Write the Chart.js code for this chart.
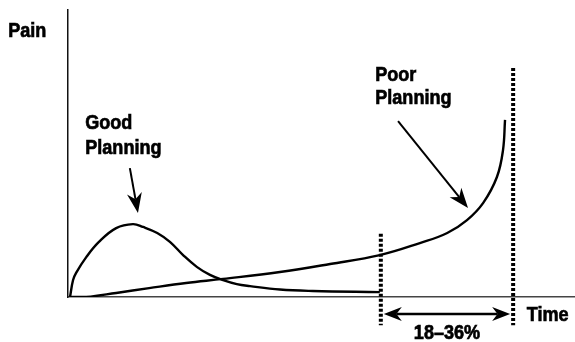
<!DOCTYPE html>
<html lang="en">
<head>
<meta charset="UTF-8">
<title>Pain over time</title>
<script src="https://cdn.jsdelivr.net/npm/chart.js"></script>
<style>
  html, body { margin: 0; padding: 0; background: #fff; }
  #wrap { width: 575px; height: 342px; }
</style>
</head>
<body>
<div id="wrap"><canvas id="grafico"></canvas></div>
<script>
// good planning: pain early, then flat
const goodTime = [0.4, 1.0, 1.6, 3.6, 6.1, 9.5, 12.8, 14.8, 17.6, 20.1, 22.7, 25.4, 28.0, 30.6, 33.3, 35.9, 41.8, 48.3, 61.5]
const goodPain = [0, 5.9, 8.4, 13.9, 19.2, 24.0, 25.4, 24.4, 22.3, 19.2, 14.6, 10.5, 7.7, 5.9, 4.5, 3.8, 2.6, 2.1, 1.7]

// poor planning: slow growth then blows up at the end
const poorTime = [0.4, 3.6, 9.5, 16.0, 23.3, 30.6, 41.8, 51.7, 61.5, 69.4, 74.8, 78.7, 81.9, 84.6, 85.8, 86.2]
const poorPain = [0, 0, 1.4, 3.1, 4.9, 6.3, 8.7, 11.5, 14.6, 18.8, 22.3, 26.8, 32.8, 41.8, 51.2, 61.7]

// dotted markers (time) and the overrun label
const markerTimes = [61.7, 87.8]
const spanLabel = '18–36%'

const toPoints = (xs, ys) => xs.map((x, i) => ({x: x, y: ys[i]}))

// condensed bold look: Liberation Sans bold squeezed sideways
const FONT = 'bold 21px "Liberation Sans", Arial, sans-serif'
const SQUEEZE = 0.86

function label(ctx, txt, x, y, align) {
  ctx.save()
  ctx.translate(x, y)
  ctx.scale(SQUEEZE, 1)
  ctx.textAlign = align || 'left'
  ctx.lineWidth = 0.7
  ctx.fillText(txt, 0, 0)
  ctx.strokeText(txt, 0, 0)
  ctx.restore()
}

function arrowHead(ctx, x1, y1, x2, y2, len, wid) {
  const a = Math.atan2(y2 - y1, x2 - x1)
  const c = Math.cos(a), s = Math.sin(a)
  const bx = x2 - c * len, by = y2 - s * len
  const nx = x2 - c * len * 0.7, ny = y2 - s * len * 0.7
  ctx.beginPath()
  ctx.moveTo(x2, y2)
  ctx.lineTo(bx - s * wid / 2, by + c * wid / 2)
  ctx.lineTo(nx, ny)
  ctx.lineTo(bx + s * wid / 2, by - c * wid / 2)
  ctx.closePath()
  ctx.fill()
  return [nx, ny]
}

function arrow(ctx, x1, y1, x2, y2, len, wid) {
  const n = arrowHead(ctx, x1, y1, x2, y2, len, wid)
  ctx.beginPath()
  ctx.moveTo(x1, y1)
  ctx.lineTo(n[0], n[1])
  ctx.stroke()
}

const annotations = {
  id: 'annotations',
  afterDraw(chart) {
    const ctx = chart.ctx
    const xs = chart.scales.x, ys = chart.scales.y
    const X = v => xs.getPixelForValue(v)
    const Y = v => ys.getPixelForValue(v)
    ctx.save()
    ctx.fillStyle = '#000'
    ctx.strokeStyle = '#000'

    // dotted verticals
    ctx.lineWidth = 4
    ctx.setLineDash([3, 2])
    ctx.beginPath()
    ctx.moveTo(X(markerTimes[0]), Y(22))
    ctx.lineTo(X(markerTimes[0]), Y(-9.8))
    ctx.moveTo(X(markerTimes[1]), Y(79.8))
    ctx.lineTo(X(markerTimes[1]), Y(-9.8))
    ctx.stroke()
    ctx.setLineDash([])

    // pointer arrows
    ctx.lineWidth = 2
    arrow(ctx, X(12.2), Y(44.9), X(13.8), Y(29.3), 20, 15)
    arrow(ctx, X(65.1), Y(61.3), X(78.9), Y(31.0), 20, 15)

    // double arrow between markers
    const ay = Y(-5.9)
    const ax1 = X(markerTimes[0]) + 3, ax2 = X(markerTimes[1]) - 3
    const n1 = arrowHead(ctx, ax2, ay, ax1, ay, 18, 14)
    const n2 = arrowHead(ctx, ax1, ay, ax2, ay, 18, 14)
    ctx.lineWidth = 2.5
    ctx.beginPath()
    ctx.moveTo(n1[0], ay)
    ctx.lineTo(n2[0], ay)
    ctx.stroke()

    // labels
    ctx.font = FONT
    ctx.textBaseline = 'alphabetic'
    label(ctx, 'Pain', X(-11.8), Y(90.6))
    label(ctx, 'Good', X(3.4), Y(58.5))
    label(ctx, 'Planning', X(3.4), Y(49.8))
    label(ctx, 'Poor', X(60.6), Y(75.3))
    label(ctx, 'Planning', X(60.6), Y(67.2))
    label(ctx, 'Time', X(90.5), Y(-8.4))
    label(ctx, spanLabel, X((markerTimes[0] + markerTimes[1]) / 2), Y(-14.6), 'center')
    ctx.restore()
  }
}

const ctx = document.getElementById('grafico')

new Chart(ctx, {
  type: 'line',
  data: {
    datasets: [
      { label: 'Good Planning', data: toPoints(goodTime, goodPain) },
      { label: 'Poor Planning', data: toPoints(poorTime, poorPain) }
    ]
  },
  options: {
    responsive: true,
    maintainAspectRatio: false,
    animation: false,
    layout: { padding: { left: 68, top: 10, right: 0, bottom: 45 } },
    elements: {
      point: { radius: 0 },
      line: { borderColor: '#000', borderWidth: 2.4, tension: 0.4, fill: false }
    },
    scales: {
      x: {
        type: 'linear', min: 0, max: 100,
        ticks: { display: false },
        grid: { display: false, drawTicks: false },
        border: { display: true, color: '#444', width: 1.5 }
      },
      y: {
        type: 'linear', min: 0, max: 100,
        ticks: { display: false },
        grid: { display: false, drawTicks: false },
        border: { display: true, color: '#111', width: 1.5 }
      }
    },
    plugins: {
      legend: { display: false },
      tooltip: { enabled: false }
    }
  },
  plugins: [annotations]
})
</script>
</body>
</html>
